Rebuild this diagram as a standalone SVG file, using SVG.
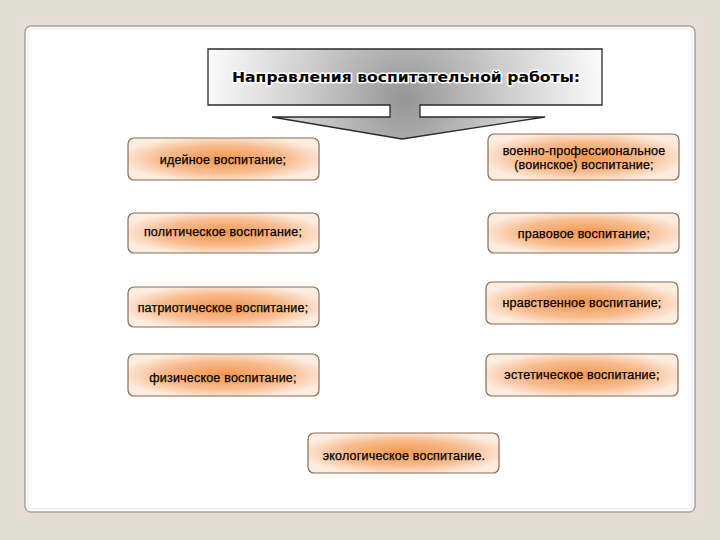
<svg xmlns="http://www.w3.org/2000/svg" width="720" height="540" viewBox="0 0 720 540">
<defs>
<radialGradient id="glow" cx="50%" cy="50%" r="55%">
<stop offset="0" stop-color="#f4964e"/>
<stop offset="0.6" stop-color="#f8bc8f"/>
<stop offset="1" stop-color="#fdece0"/>
</radialGradient>
<radialGradient id="grey" gradientUnits="userSpaceOnUse" cx="405" cy="100" r="210">
<stop offset="0" stop-color="#959595"/>
<stop offset="0.5" stop-color="#cfcfcf"/>
<stop offset="1" stop-color="#ffffff"/>
</radialGradient>
<style>
.box{fill:url(#glow);stroke:#8a6a55;stroke-width:1.2}
.lbl{font-family:"Liberation Sans",Arial,sans-serif;font-size:12.5px;fill:#000;text-anchor:middle;letter-spacing:0.2px;stroke:#000;stroke-width:0.25}
.head{font-family:"DejaVu Sans","Liberation Sans",sans-serif;font-size:14.5px;font-weight:bold;fill:#000;text-anchor:middle;stroke:#fff;stroke-width:3;paint-order:stroke;stroke-linejoin:round}
</style>
</defs>
<rect x="0" y="0" width="720" height="540" fill="#e0ddd4"/>
<rect x="17" y="16" width="690" height="506" rx="8" fill="#e6dcd4"/>
<rect x="25" y="26" width="670" height="486" rx="6" fill="#ffffff" stroke="#a8a49a" stroke-width="1.5"/>
<rect x="28" y="29" width="664" height="480" rx="4" fill="none" stroke="#eef2f6" stroke-width="1.5"/>

<g id="header">
<path d="M208,49 H602 V105 H420 V117 H545 L402,139 L272,117 H390 V105 H208 Z" fill="url(#grey)" stroke="#2a2a2a" stroke-width="1.3" stroke-linejoin="miter"/>
<text class="head" x="406" y="82" textLength="348" lengthAdjust="spacingAndGlyphs">Направления воспитательной работы:</text>
</g>

<g id="connectors"></g>

<g id="n-ideinoe">
<rect class="box" x="128" y="138" width="191" height="42" rx="6"/>
<text class="lbl" x="223" y="164">идейное воспитание;</text>
</g>
<g id="n-voenno">
<rect class="box" x="488" y="134" width="191" height="46" rx="6"/>
<text class="lbl" x="584" y="155">военно-профессиональное</text>
<text class="lbl" x="584" y="169">(воинское) воспитание;</text>
</g>
<g id="n-polit">
<rect class="box" x="128" y="213" width="191" height="40" rx="6"/>
<text class="lbl" x="223" y="236">политическое воспитание;</text>
</g>
<g id="n-pravo">
<rect class="box" x="488" y="213" width="191" height="40" rx="6"/>
<text class="lbl" x="584" y="238">правовое воспитание;</text>
</g>
<g id="n-patriot">
<rect class="box" x="128" y="287" width="191" height="40" rx="6"/>
<text class="lbl" x="223" y="312">патриотическое воспитание;</text>
</g>
<g id="n-nravst">
<rect class="box" x="486" y="282" width="192" height="42" rx="6"/>
<text class="lbl" x="582" y="307">нравственное воспитание;</text>
</g>
<g id="n-fiz">
<rect class="box" x="128" y="354" width="191" height="42" rx="6"/>
<text class="lbl" x="223" y="382">физическое воспитание;</text>
</g>
<g id="n-estet">
<rect class="box" x="486" y="354" width="192" height="42" rx="6"/>
<text class="lbl" x="582" y="379">эстетическое воспитание;</text>
</g>
<g id="n-ekolog">
<rect class="box" x="308" y="433" width="191" height="40" rx="6"/>
<text class="lbl" x="404" y="460">экологическое воспитание.</text>
</g>
</svg>
